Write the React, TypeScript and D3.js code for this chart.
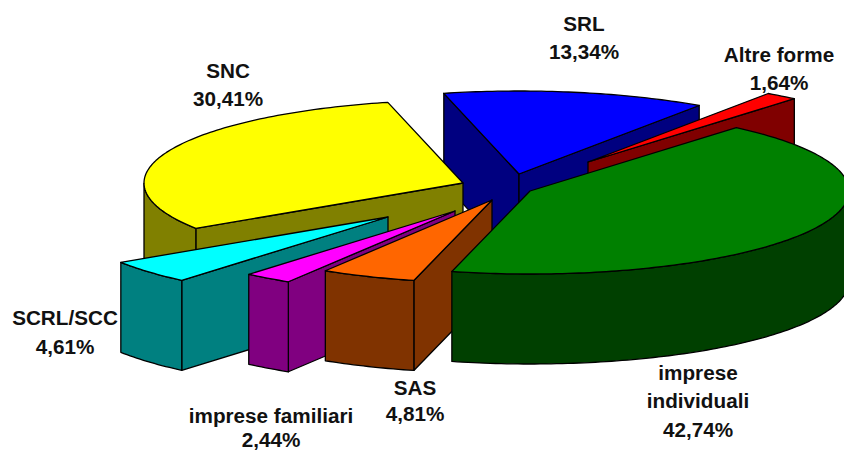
import React from "react";
import * as d3 from "d3";

const categories = ["imprese individuali", "SAS", "imprese familiari", "SCRL/SCC", "SNC", "SRL", "Altre forme"];
const shares = [42.74, 4.81, 2.44, 4.61, 30.41, 13.34, 1.64];
const shareLabels = ["42,74%", "4,81%", "2,44%", "4,61%", "30,41%", "13,34%", "1,64%"];

// Layout and styling, kept apart from the values
const W = 844, H = 450;
const CX = 500, CY = 186, RX = 319, RY = 83, DEPTH = 90;
const START = (40.3 * Math.PI) / 180;
const explode: [number, number][] = [[30, 5], [-8, 14], [-45, 25], [-112, 31], [-37, -3], [19, -12], [88, -24]];
const topColors = ["#008000", "#FF6600", "#FF00FF", "#00FFFF", "#FFFF00", "#0000FF", "#FF0000"];
const wallColors = ["#004000", "#803300", "#800080", "#008080", "#808000", "#000080", "#800000"];
const paintOrder = [5, 6, 4, 3, 2, 1, 0];
const labelLines: { lines: string[]; x: number; ys: number[] }[] = [
  { lines: ["imprese", "individuali", shareLabels[0]], x: 698, ys: [380, 408, 437] },
  { lines: ["SAS", shareLabels[1]], x: 415, ys: [395, 421] },
  { lines: ["imprese familiari", shareLabels[2]], x: 271, ys: [423, 447] },
  { lines: [categories[3], shareLabels[3]], x: 65, ys: [325, 354] },
  { lines: [categories[4], shareLabels[4]], x: 228, ys: [78, 106] },
  { lines: [categories[5], shareLabels[5]], x: 584, ys: [31, 59] },
  { lines: [categories[6], shareLabels[6]], x: 779, ys: [62, 90] },
];

type P = [number, number];
const line = d3.line<P>().x((d) => d[0]).y((d) => d[1]);
const pieGen = d3
  .pie<number>()
  .sort(null)
  .startAngle(START)
  .endAngle(START + 2 * Math.PI);
const arcs = pieGen(shares);

function Slice({ index }: { index: number }) {
  const a = arcs[index];
  const [ox, oy] = explode[index];
  const apex: P = [CX + ox, CY + oy];
  const steps = Math.max(2, Math.ceil(((a.endAngle - a.startAngle) * 180) / Math.PI));
  const angle = d3.scaleLinear().domain([0, steps]).range([a.startAngle, a.endAngle]);
  const rim: P[] = d3.range(steps + 1).map((i) => [
    apex[0] + RX * Math.sin(angle(i)),
    apex[1] - RY * Math.cos(angle(i)),
  ]);
  const down = (p: P): P => [p[0], p[1] + DEPTH];
  const wall = (pts: P[]) => line([...pts, ...pts.slice().reverse().map(down)]) + "Z";
  const walls: string[] = [];
  if (rim[0][0] < apex[0]) walls.push(wall([apex, rim[0]]));
  if (apex[0] < rim[steps][0]) walls.push(wall([rim[steps], apex]));
  // runs of the curved rim that face the viewer (x decreasing on screen)
  let run: P[] = [];
  for (let i = 0; i < steps; i++) {
    if (rim[i + 1][0] < rim[i][0]) {
      if (!run.length) run.push(rim[i]);
      run.push(rim[i + 1]);
    } else if (run.length) {
      walls.push(wall(run));
      run = [];
    }
  }
  if (run.length) walls.push(wall(run));
  return (
    <g stroke="#000" strokeWidth={1.3} strokeLinejoin="round">
      {walls.map((d, i) => (
        <path key={i} d={d} fill={wallColors[index]} />
      ))}
      <path d={line([apex, ...rim]) + "Z"} fill={topColors[index]} />
    </g>
  );
}

export default function App() {
  return (
    <svg
      width={W}
      height={H}
      viewBox={`0 0 ${W} ${H}`}
      style={{ position: "absolute", left: 0, top: 0, background: "#fff" }}
    >
      {paintOrder.map((i) => (
        <Slice key={i} index={i} />
      ))}
      <g fontFamily="'Liberation Sans', Arial, sans-serif" fontWeight={700} fontSize={20.7} fill="#111" textAnchor="middle">
        {labelLines.map((l, i) =>
          l.lines.map((t, j) => (
            <text key={`${i}-${j}`} x={l.x} y={l.ys[j]}>
              {t}
            </text>
          ))
        )}
      </g>
    </svg>
  );
}
